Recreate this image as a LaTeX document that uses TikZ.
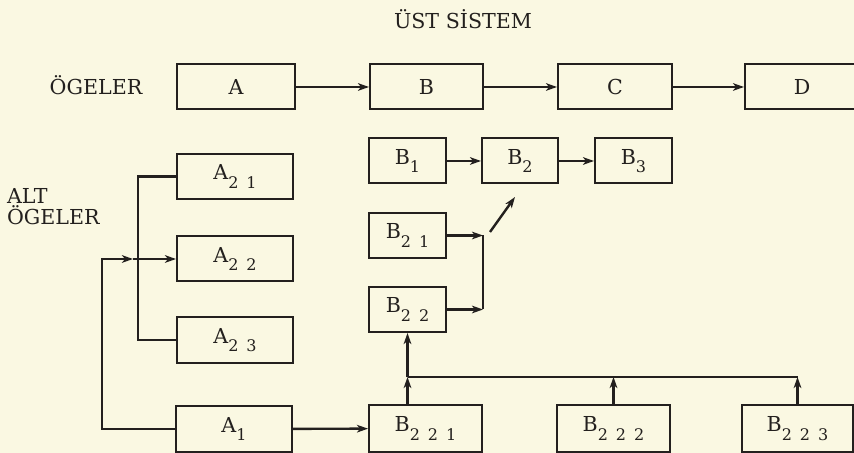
\documentclass[tikz,border=0pt]{standalone}
\usepackage{fontspec}
\setmainfont{DejaVu Serif}
\usetikzlibrary{arrows.meta}
\definecolor{paper}{RGB}{250,248,226}
\definecolor{ink}{RGB}{35,32,30}
\newcommand{\dn}[1]{\raisebox{-4.2pt}{\fontsize{8}{8}\selectfont #1}}
\begin{document}
\begin{tikzpicture}[x=0.5pt, y=-0.5pt, every node/.style={font=\fontsize{10.3}{10.5}\selectfont, text=ink},
  box/.style={draw=ink, line width=1pt, minimum height=22.5pt, inner sep=0pt},
  arr/.style={draw=ink, line width=1.2pt, -{Stealth[length=5.5pt,width=3.8pt,inset=1.5pt]}},
  lin/.style={draw=ink, line width=1.2pt}]
  \fill[paper] (0,0) rectangle (854,453);
  \useasboundingbox (0,0) rectangle (854,453);
  % labels
  \node (ust) at (463,19) {ÜST SİSTEM};
  \node (oge) at (96,85) {ÖGELER};
  \node[anchor=west,align=left] (alt) at (0,207) {ALT\\ÖGELER};
  % top row
  \node[box,minimum width=59pt] (A) at (236,87) {A};
  \node[box,minimum width=56.5pt] (B) at (426.5,87) {B};
  \node[box,minimum width=57pt] (C) at (615,87) {C};
  \node[box,minimum width=57pt] (D) at (802,87) {D};
  \draw[arr] (A) -- (B);
  \draw[arr] (B) -- (C);
  \draw[arr] (C) -- (D);
  % A side
  \node[box,minimum width=58pt] (A21) at (235,176.5) {A\dn{2\hspace{4pt}1}};
  \node[box,minimum width=58pt] (A22) at (235,259) {A\dn{2\hspace{4pt}2}};
  \node[box,minimum width=58pt] (A23) at (235,340) {A\dn{2\hspace{4pt}3}};
  \node[box,minimum width=58pt,minimum height=23pt] (A1) at (234,429) {A\dn{1}};
  \coordinate (ltrunk) at (102,0);
  \coordinate (amid) at (133,0);
  \coordinate (abus) at (138,0);
  \draw[arr] (A1.west) -| (ltrunk |- A22.west) -- (amid |- A22.west);
  \draw[arr] (amid |- A22.west) -- (A22.west);
  \draw[lin] (A21.west) -| (abus |- A23.west) -- (A23.west);
  % B side
  \node[box,minimum width=38.5pt] (B1) at (407.5,161) {B\dn{1}};
  \node[box,minimum width=38pt] (B2) at (520,161) {B\dn{2}};
  \node[box,minimum width=38.5pt] (B3) at (633.5,161) {B\dn{3}};
  \node[box,minimum width=38.5pt] (B21) at (407.5,235.5) {B\dn{2\hspace{4pt}1}};
  \node[box,minimum width=38.5pt] (B22) at (407.5,309.5) {B\dn{2\hspace{4pt}2}};
  \node[box,minimum width=56.5pt,minimum height=23.5pt] (B221) at (425.5,428.5) {B\dn{2\hspace{4pt}2\hspace{4pt}1}};
  \node[box,minimum width=56.5pt,minimum height=23.5pt] (B222) at (613.5,428.5) {B\dn{2\hspace{4pt}2\hspace{4pt}2}};
  \node[box,minimum width=55.5pt,minimum height=23.5pt] (B223) at (797.5,428.5) {B\dn{2\hspace{4pt}2\hspace{4pt}3}};
  \draw[arr] (A1) -- (B221);
  \draw[arr] (B1) -- (B2);
  \draw[arr] (B2) -- (B3);
  \coordinate (jn) at (483,0);
  \draw[arr] (B21.east) -- (jn |- B21.east);
  \draw[arr] (B22.east) -- (jn |- B22.east);
  \draw[lin] (jn |- B21.east) -- (jn |- B22.east);
  \coordinate (up0) at (490,232);
  \coordinate (up1) at (515,197);
  \draw[arr] (up0) -- (up1);
  \coordinate (bus) at (0,377);
  \draw[arr] (B221.north -| B22.south) -- (B22.south |- bus);
  \draw[arr] (B22.south |- bus) -- (B22.south);
  \draw[lin] (B22.south |- bus) -- (B223.north |- bus);
  \draw[arr] (B222.north) -- (B222.north |- bus);
  \draw[arr] (B223.north) -- (B223.north |- bus);
\end{tikzpicture}
\end{document}
